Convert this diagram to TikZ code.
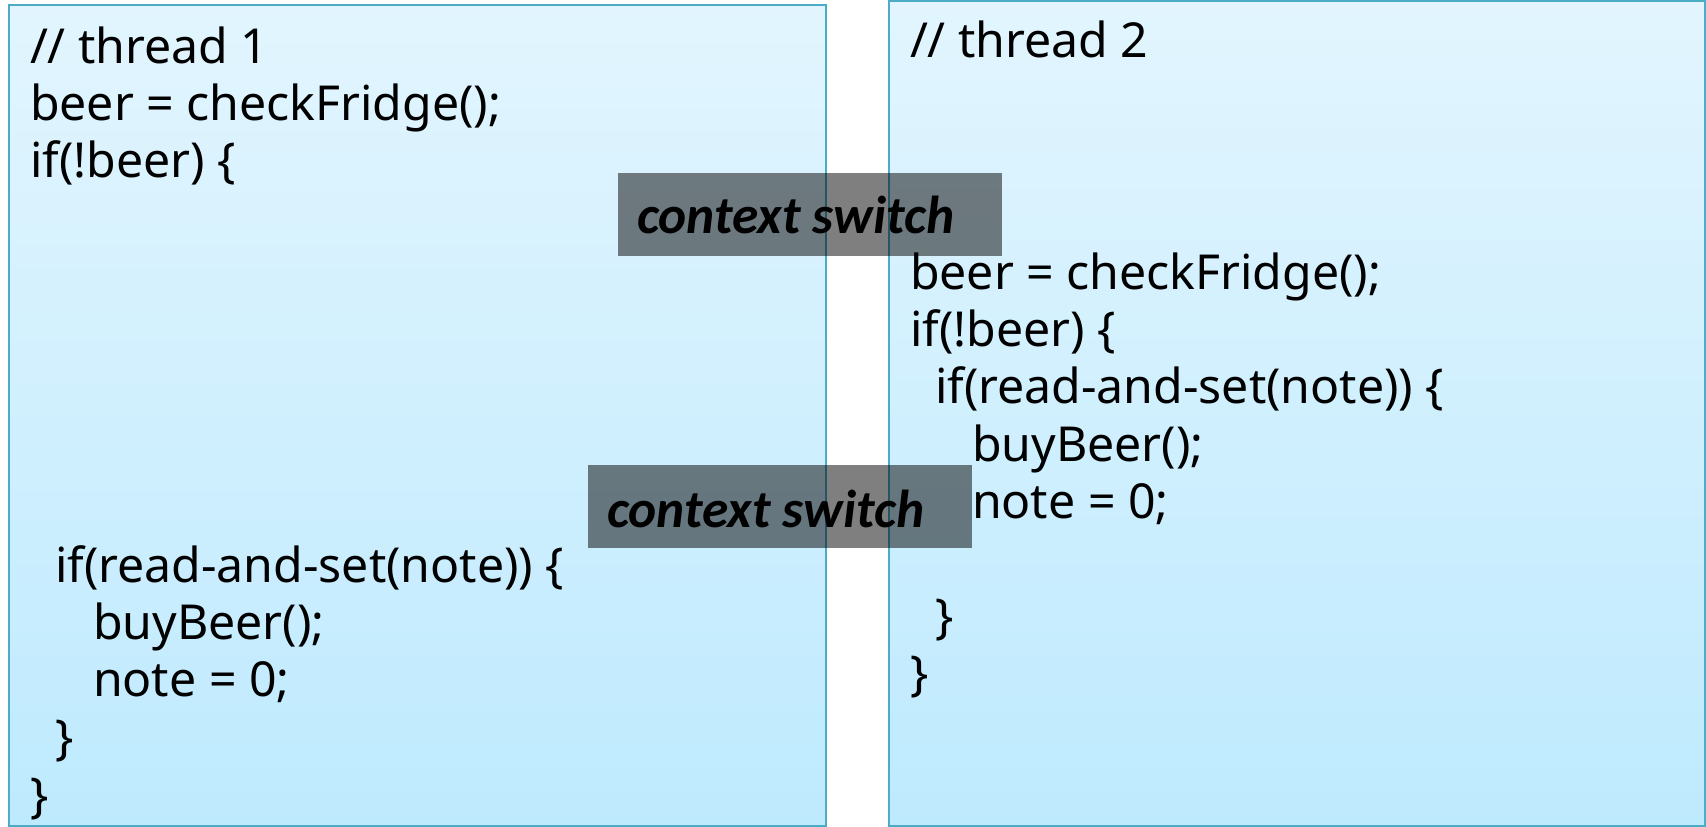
\documentclass[tikz,border=0pt]{standalone}
\usepackage{fontspec}
\setmainfont{Noto Sans}
\newfontfamily\csfont{Carlito}
\definecolor{boxtop}{RGB}{226,245,254}
\definecolor{boxbot}{RGB}{190,234,254}
\definecolor{boxline}{RGB}{75,172,198}
\tikzset{
  threadbox/.style={draw=boxline, line width=2pt, top color=boxtop, bottom color=boxbot},
  code/.style={anchor=base west, inner sep=0pt, outer sep=0pt, font=\fontsize{48.2}{57}\selectfont},
  switchbox/.style={fill=black, fill opacity=0.5, draw=none},
  switchtext/.style={anchor=base west, inner sep=0pt, text=black, font=\csfont\bfseries\itshape\fontsize{53.4}{60}\selectfont}
}
\begin{document}
\begin{tikzpicture}[x=1pt,y=-1pt]
\useasboundingbox (0,0) rectangle (1706,827);
% thread boxes
\path[threadbox] (9,5) rectangle (826,826);
\path[threadbox] (889,1) rectangle (1705,826);
% thread 1
\node[code] (a1) at (30,63) {// thread 1};
\node[code] (a2) at (30,120) {beer = checkFridge();};
\node[code] (a3) at (30,177) {if(!beer) \{};
\node[code] (a4) at (55,582) {if(read-and-set(note)) \{};
\node[code] (a5) at (93,639) {buyBeer();};
\node[code] (a6) at (93,696) {note = 0;};
\node[code] (a7) at (55,754) {\}};
\node[code] (a8) at (30,812) {\}};
% thread 2
\node[code] (b1) at (910,57) {// thread 2};
\node[code] (b2) at (910,289) {beer = checkFridge();};
\node[code] (b3) at (910,346) {if(!beer) \{};
\node[code] (b4) at (935,403) {if(read-and-set(note)) \{};
\node[code] (b5) at (972,461) {buyBeer();};
\node[code] (b6) at (972,518) {note = 0;};
\node[code] (b7) at (935,633) {\}};
\node[code] (b8) at (910,690) {\}};
% context switches
\path[switchbox] (618,173) rectangle (1002,256);
\node[switchtext] (cs1) at (637,233) {context switch};
\path[switchbox] (588,465) rectangle (972,548);
\node[switchtext] (cs2) at (607,527) {context switch};
\end{tikzpicture}
\end{document}
